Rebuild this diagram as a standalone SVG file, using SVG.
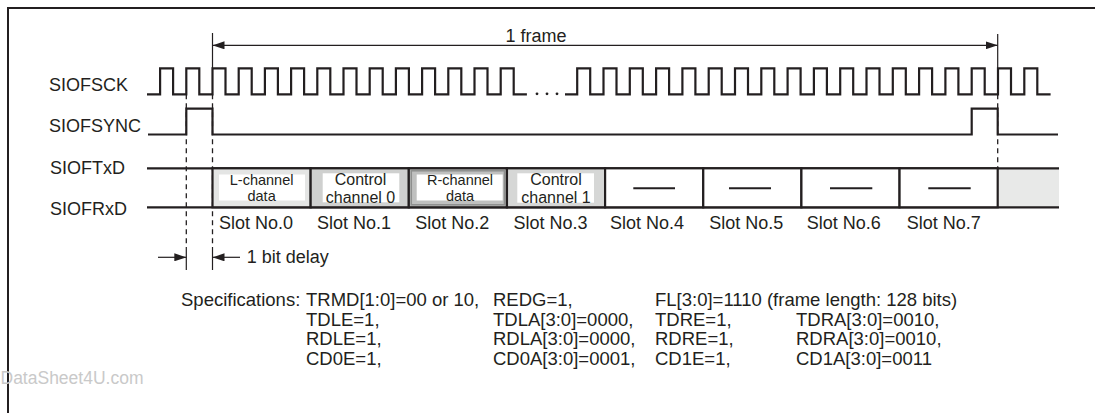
<svg xmlns="http://www.w3.org/2000/svg" width="1095" height="413" viewBox="0 0 1095 413">
<style>
text{font-family:"Liberation Sans",Arial,sans-serif;fill:#231f20}
.lbl{font-size:18px}
.spec{font-size:18.5px}
.sm{font-size:14.5px}
.ctl{font-size:16px}
.sig{fill:none;stroke:#231f20;stroke-width:2.2;stroke-linejoin:miter}
.thin{fill:none;stroke:#231f20;stroke-width:1.2}
.dash{fill:none;stroke:#231f20;stroke-width:1.3;stroke-dasharray:5 4}
.slot{stroke:#231f20;stroke-width:2.2}
.inner{fill:#ffffff}
.bar{stroke:#231f20;stroke-width:2}
</style>
<defs>
<marker id="ah" markerWidth="12" markerHeight="8" refX="12" refY="4" orient="auto-start-reverse" markerUnits="userSpaceOnUse">
<path d="M0,0 L12,4 L0,8 Z" fill="#231f20"/>
</marker>
</defs>
<rect width="1095" height="413" fill="#ffffff"/>
<path d="M8,413 V8 H1095" fill="none" stroke="#231f20" stroke-width="2"/>
<text x="0.5" y="384" style="font-size:17.5px;fill:#c9c9c9">DataSheet4U.com</text>

<g id="labels">
<text class="lbl" x="49" y="90.5">SIOFSCK</text>
<text class="lbl" x="49" y="132">SIOFSYNC</text>
<text class="lbl" x="50" y="174">SIOFTxD</text>
<text class="lbl" x="50" y="215">SIOFRxD</text>
</g>

<g id="connectors">
<line class="thin" x1="212.5" y1="33" x2="212.5" y2="68.3"/>
<line class="thin" x1="997.7" y1="34" x2="997.7" y2="68.3"/>
<line class="thin" x1="212.5" y1="45.3" x2="997.7" y2="45.3" marker-start="url(#ah)" marker-end="url(#ah)"/>
<line class="dash" x1="186.3" y1="94.3" x2="186.3" y2="247"/>
<line class="dash" x1="212.5" y1="94.3" x2="212.5" y2="247"/>
<line class="dash" x1="997.7" y1="94.3" x2="997.7" y2="168.3"/>
<line class="thin" x1="186.3" y1="247" x2="186.3" y2="270"/>
<line class="thin" x1="212.5" y1="247" x2="212.5" y2="270"/>
<line class="thin" x1="158" y1="257.3" x2="186.3" y2="257.3" marker-end="url(#ah)"/>
<line class="thin" x1="240" y1="257.3" x2="212.5" y2="257.3" marker-end="url(#ah)"/>
</g>
<text id="frame-label" class="lbl" x="536" y="41.5" text-anchor="middle">1 frame</text>
<text id="delay-label" class="lbl" x="246.7" y="262.5">1 bit delay</text>

<g id="sck">
<path class="sig" d="M147,94.3 H160.1 V68.3h13V94.3h13.2V68.3h13V94.3h13.2V68.3h13V94.3h13.2V68.3h13V94.3h13.2V68.3h13V94.3h13.2V68.3h13V94.3h13.2V68.3h13V94.3h13.2V68.3h13V94.3h13.2V68.3h13V94.3h13.2V68.3h13V94.3h13.2V68.3h13V94.3h13.2V68.3h13V94.3h13.2V68.3h13V94.3h13.2V68.3h13V94.3h13.2"/>
<circle cx="537" cy="93.8" r="1.4" fill="#231f20"/>
<circle cx="547" cy="93.8" r="1.4" fill="#231f20"/>
<circle cx="557" cy="93.8" r="1.4" fill="#231f20"/>
<path class="sig" d="M565,94.3 H577.2 V68.3h13V94.3h13.3V68.3h13V94.3h13.3V68.3h13V94.3h13.3V68.3h13V94.3h13.3V68.3h13V94.3h13.3V68.3h13V94.3h13.3V68.3h13V94.3h13.3V68.3h13V94.3h13.3V68.3h13V94.3h13.3V68.3h13V94.3h13.3V68.3h13V94.3h13.3V68.3h13V94.3h13.3V68.3h13V94.3h13.3V68.3h13V94.3h13.3V68.3h13V94.3h13.3V68.3h13V94.3h13.3V68.3h13V94.3h13.3V68.3h13V94.3h13.3"/>
</g>

<g id="sync">
<path class="sig" d="M148,134.5 H186.3 V108.7 H212.5 V134.5 H971.7 V108.7 H997.7 V134.5 H1058"/>
</g>

<g id="data-lines">
<rect x="997.7" y="168.3" width="61.3" height="39" fill="#e8e9e8"/>
<line class="sig" x1="147" y1="168.3" x2="1059" y2="168.3"/>
<line class="sig" x1="147" y1="207.3" x2="1059" y2="207.3"/>
</g>

<g id="slot0">
<rect class="slot" x="212.5" y="168.3" width="98.15" height="39" fill="#e4e5e4"/>
<rect class="inner" x="219" y="174.5" width="86" height="26"/>
<text class="sm" x="261.6" y="185" text-anchor="middle">L-channel</text>
<text class="sm" x="261.6" y="201.2" text-anchor="middle">data</text>
<text class="lbl" x="219" y="228.5">Slot No.0</text>
</g>
<g id="slot1">
<rect class="slot" x="310.65" y="168.3" width="98.15" height="39" fill="#cfd0cf"/>
<rect class="inner" x="322.7" y="173.3" width="76.6" height="29"/>
<text class="ctl" x="360.5" y="185.3" text-anchor="middle">Control</text>
<text class="ctl" x="360.5" y="203.2" text-anchor="middle">channel 0</text>
<text class="lbl" x="317" y="228.5">Slot No.1</text>
</g>
<g id="slot2">
<rect class="slot" x="408.8" y="168.3" width="98.15" height="39" fill="#bfc0bf"/>
<rect x="411.3" y="170.8" width="93.15" height="34" fill="none" stroke="#8e8f8e" stroke-width="1.5"/>
<rect class="inner" x="416.7" y="174.5" width="86" height="26"/>
<text class="sm" x="460" y="185" text-anchor="middle">R-channel</text>
<text class="sm" x="460" y="201.2" text-anchor="middle">data</text>
<text class="lbl" x="415.3" y="228.5">Slot No.2</text>
</g>
<g id="slot3">
<rect class="slot" x="506.95" y="168.3" width="98.15" height="39" fill="#d6d7d6"/>
<rect class="inner" x="517.3" y="173.3" width="76.7" height="29.4"/>
<text class="ctl" x="556" y="185.3" text-anchor="middle">Control</text>
<text class="ctl" x="556" y="203.2" text-anchor="middle">channel 1</text>
<text class="lbl" x="513.5" y="228.5">Slot No.3</text>
</g>
<g id="slot4">
<rect class="slot" x="605.1" y="168.3" width="98.15" height="39" fill="#ffffff"/>
<line class="bar" x1="633.3" y1="188.3" x2="675" y2="188.3"/>
<text class="lbl" x="610" y="228.5">Slot No.4</text>
</g>
<g id="slot5">
<rect class="slot" x="703.25" y="168.3" width="98.15" height="39" fill="#ffffff"/>
<line class="bar" x1="729" y1="188.3" x2="771" y2="188.3"/>
<text class="lbl" x="709.3" y="228.5">Slot No.5</text>
</g>
<g id="slot6">
<rect class="slot" x="801.4" y="168.3" width="98.15" height="39" fill="#ffffff"/>
<line class="bar" x1="830" y1="188.3" x2="872.3" y2="188.3"/>
<text class="lbl" x="806.7" y="228.5">Slot No.6</text>
</g>
<g id="slot7">
<rect class="slot" x="899.55" y="168.3" width="98.15" height="39" fill="#ffffff"/>
<line class="bar" x1="928.3" y1="188.3" x2="970.7" y2="188.3"/>
<text class="lbl" x="906.7" y="228.5">Slot No.7</text>
</g>

<g id="specs">
<text class="spec" x="181" y="306">Specifications:</text>
<text class="spec" x="306" y="306">TRMD[1:0]=00 or 10,</text>
<text class="spec" x="493" y="306">REDG=1,</text>
<text class="spec" x="655" y="306">FL[3:0]=1110 (frame length: 128 bits)</text>
<text class="spec" x="306" y="325.5">TDLE=1,</text>
<text class="spec" x="493" y="325.5">TDLA[3:0]=0000,</text>
<text class="spec" x="655" y="325.5">TDRE=1,</text>
<text class="spec" x="796" y="325.5">TDRA[3:0]=0010,</text>
<text class="spec" x="306" y="345">RDLE=1,</text>
<text class="spec" x="493" y="345">RDLA[3:0]=0000,</text>
<text class="spec" x="655" y="345">RDRE=1,</text>
<text class="spec" x="796" y="345">RDRA[3:0]=0010,</text>
<text class="spec" x="306" y="364.5">CD0E=1,</text>
<text class="spec" x="493" y="364.5">CD0A[3:0]=0001,</text>
<text class="spec" x="655" y="364.5">CD1E=1,</text>
<text class="spec" x="796" y="364.5">CD1A[3:0]=0011</text>
</g>
</svg>
